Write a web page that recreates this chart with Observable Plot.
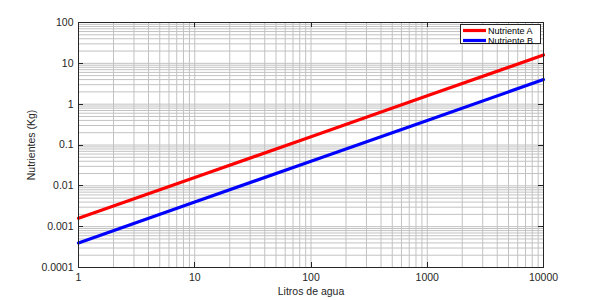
<!DOCTYPE html>
<html><head><meta charset="utf-8">
<script src="https://cdn.jsdelivr.net/npm/d3@7"></script>
<script src="https://cdn.jsdelivr.net/npm/@observablehq/plot@0.6"></script>
<style>body{margin:0;background:#fff}#c{position:relative;width:600px;height:300px}</style>
</head><body><div id="c"></div>
<script>
const litros = [1, 10, 100, 1000, 10000];
const nutrienteA = [0.0016, 0.016, 0.16, 1.6, 16];
const nutrienteB = [0.0004, 0.004, 0.04, 0.4, 4];
const xTicks = [1, 10, 100, 1000, 10000];
const yTicks = [0.0001, 0.001, 0.01, 0.1, 1, 10, 100];
const seriesNames = ["Nutriente A", "Nutriente B"];
const colors = ["#ff0000", "#0000ff"];

const rows = [];
litros.forEach((x, i) => {
  rows.push({x, y: nutrienteA[i], s: seriesNames[0]});
  rows.push({x, y: nutrienteB[i], s: seriesNames[1]});
});
const minor = ticks => {
  const out = [];
  for (let i = 0; i < ticks.length - 1; i++) for (let k = 1; k <= 9; k++) out.push(ticks[i] * k);
  out.push(ticks[ticks.length - 1]);
  return out;
};
const xGrid = minor(xTicks), yGrid = minor(yTicks);
const font = "'Liberation Sans', Arial, sans-serif";

const chart = Plot.plot({
  width: 600, height: 300,
  marginLeft: 78, marginRight: 57, marginTop: 22, marginBottom: 33,
  style: {fontFamily: font, fontSize: "10.5px", color: "#262626", background: "#fff"},
  x: {type: "log", domain: [1, 10000]},
  y: {type: "log", domain: [0.0001, 100]},
  color: {domain: seriesNames, range: colors},
  marks: [
    Plot.ruleX(xGrid, {stroke: "#c2c2c2", strokeWidth: 1}),
    Plot.ruleY(yGrid, {stroke: "#c2c2c2", strokeWidth: 1}),
    Plot.line(rows, {x: "x", y: "y", z: "s", stroke: "s", strokeWidth: 3.2}),
    Plot.axisX({ticks: xTicks, tickSize: 0, tickPadding: 6, tickFormat: d => String(d), label: "Litros de agua", labelAnchor: "center", labelArrow: "none", labelOffset: 27, fontSize: 10.5}),
    Plot.axisY({ticks: yTicks, tickSize: 0, tickPadding: 5, tickFormat: d => String(d), label: "Nutrientes (Kg)", labelAnchor: "center", labelArrow: "none", labelOffset: 51, fontSize: 10.5}),
    Plot.frame({stroke: "#262626", strokeWidth: 1})
  ]
});
document.getElementById("c").appendChild(chart);

const sx = chart.scale("x"), sy = chart.scale("y");
const svg = d3.select(chart);
const x0 = 78, x1 = 543, y0 = 22, y1 = 267, tl = 5;
const g = svg.append("g").attr("stroke", "#262626").attr("stroke-width", 1);
xTicks.forEach(v => {
  const px = Math.round(sx.apply(v)) + 0.5;
  g.append("line").attr("x1", px).attr("x2", px).attr("y1", y1).attr("y2", y1 - tl);
  g.append("line").attr("x1", px).attr("x2", px).attr("y1", y0).attr("y2", y0 + tl);
});
yTicks.forEach(v => {
  const py = Math.round(sy.apply(v)) + 0.5;
  g.append("line").attr("x1", x0).attr("x2", x0 + tl).attr("y1", py).attr("y2", py);
  g.append("line").attr("x1", x1).attr("x2", x1 - tl).attr("y1", py).attr("y2", py);
});
// legend
const lg = svg.append("g").attr("font-family", font).attr("font-size", 9).attr("text-anchor", "start");
lg.append("rect").attr("x", 460.5).attr("y", 24.5).attr("width", 80).attr("height", 19).attr("fill", "#fff").attr("stroke", "#262626");
seriesNames.forEach((n, i) => {
  const yy = 30.5 + i * 10;
  lg.append("line").attr("x1", 463).attr("x2", 486).attr("y1", yy).attr("y2", yy).attr("stroke", colors[i]).attr("stroke-width", 3.2);
  lg.append("text").attr("x", 488).attr("y", yy + 3).attr("fill", "#000").attr("text-anchor", "start").text(n);
});
</script></body></html>
